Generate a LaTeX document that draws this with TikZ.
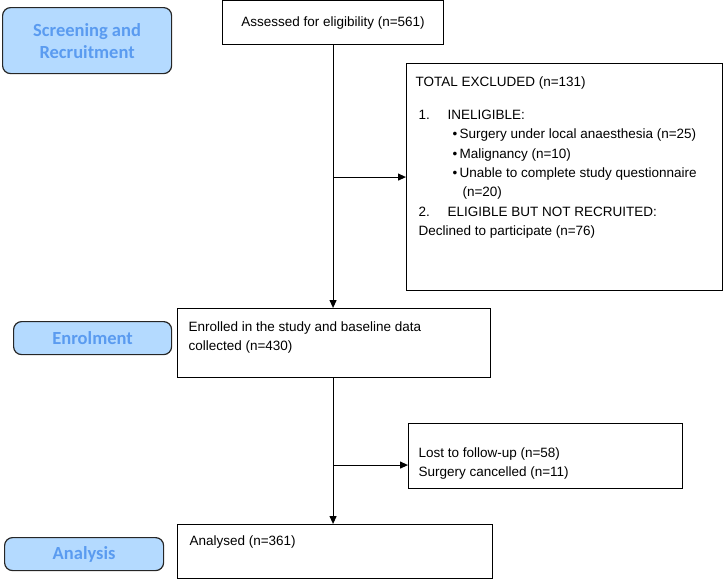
\documentclass[tikz,border=0pt]{standalone}
\usepackage{fontspec}
\setmainfont{Liberation Sans}
\newfontfamily\stagefont{Carlito}
\usetikzlibrary{arrows.meta,positioning}
\definecolor{stagefill}{HTML}{B4DAFF}
\definecolor{stagetext}{HTML}{5A9BF0}
\tikzset{
  >={Triangle[length=8pt,width=7pt]},
  stage/.style={draw=black!85,line width=1.2pt,rounded corners=8pt,fill=stagefill,anchor=north west,
    font=\stagefont\bfseries\fontsize{18.5}{22}\selectfont,text=stagetext,align=center,inner sep=0pt},
  flow/.style={draw=black,line width=1.1pt,anchor=north west,inner sep=0pt,font=\fontsize{13.5}{19.3}\selectfont},
  arr/.style={->,draw=black,line width=1.1pt},
}

\begin{document}
\begin{tikzpicture}[x=1pt,y=-1pt]
\useasboundingbox (0,0) rectangle (726,579);
% stage labels
\node[stage,minimum width=169pt,minimum height=66pt] (screen) at (2,7) {Screening and\\Recruitment};
\node[stage,minimum width=158pt,minimum height=33pt] (enrolstage) at (13,321) {Enrolment};
\node[stage,minimum width=159pt,minimum height=33pt] (analstage) at (4,537) {Analysis};
% flow boxes
\node[flow,minimum width=221pt,minimum height=44pt] (assess) at (222,0) {Assessed for eligibility (n=561)};
\node[flow,inner xsep=9pt,inner ysep=13pt] (excl) at (406,63) {\parbox[c][201pt][t]{298pt}{%
  TOTAL EXCLUDED (n=131)\\[14pt]
  \hspace*{3pt}\makebox[29pt][l]{1.}INELIGIBLE:\\
  \hspace*{37pt}\textbullet\,Surgery under local anaesthesia (n=25)\\
  \hspace*{37pt}\textbullet\,Malignancy (n=10)\\
  \hspace*{37pt}\textbullet\,Unable to complete study questionnaire\\
  \hspace*{47pt}(n=20)\\
  \hspace*{3pt}\makebox[29pt][l]{2.}ELIGIBLE BUT NOT RECRUITED:\\
  \hspace*{3pt}Declined to participate (n=76)}};
\node[flow,inner xsep=11pt,inner ysep=13pt] (enrol) at (177,308) {\parbox[c][43pt][t]{291pt}{%
  Enrolled in the study and baseline data\\collected (n=430)}};
\node[flow,inner xsep=10pt,inner ysep=24pt] (lost) at (408,423) {\parbox[c][17pt][t]{254pt}{%
  Lost to follow-up (n=58)\\Surgery cancelled (n=11)}};
\node[flow,inner xsep=12pt,inner ysep=11pt] (anal) at (177,524) {\parbox[c][32pt][t]{291pt}{Analysed (n=361)}};
% connectors
\coordinate (lostin) at ([yshift=-9pt]lost.west);
\draw[arr] (assess.south) -- (assess.south |- enrol.north);
\draw[arr] (assess.south |- excl.west) -- (excl.west);
\draw[arr] (assess.south |- enrol.south) -- (assess.south |- anal.north);
\draw[arr] (assess.south |- lostin) -- (lostin);
\end{tikzpicture}
\end{document}
